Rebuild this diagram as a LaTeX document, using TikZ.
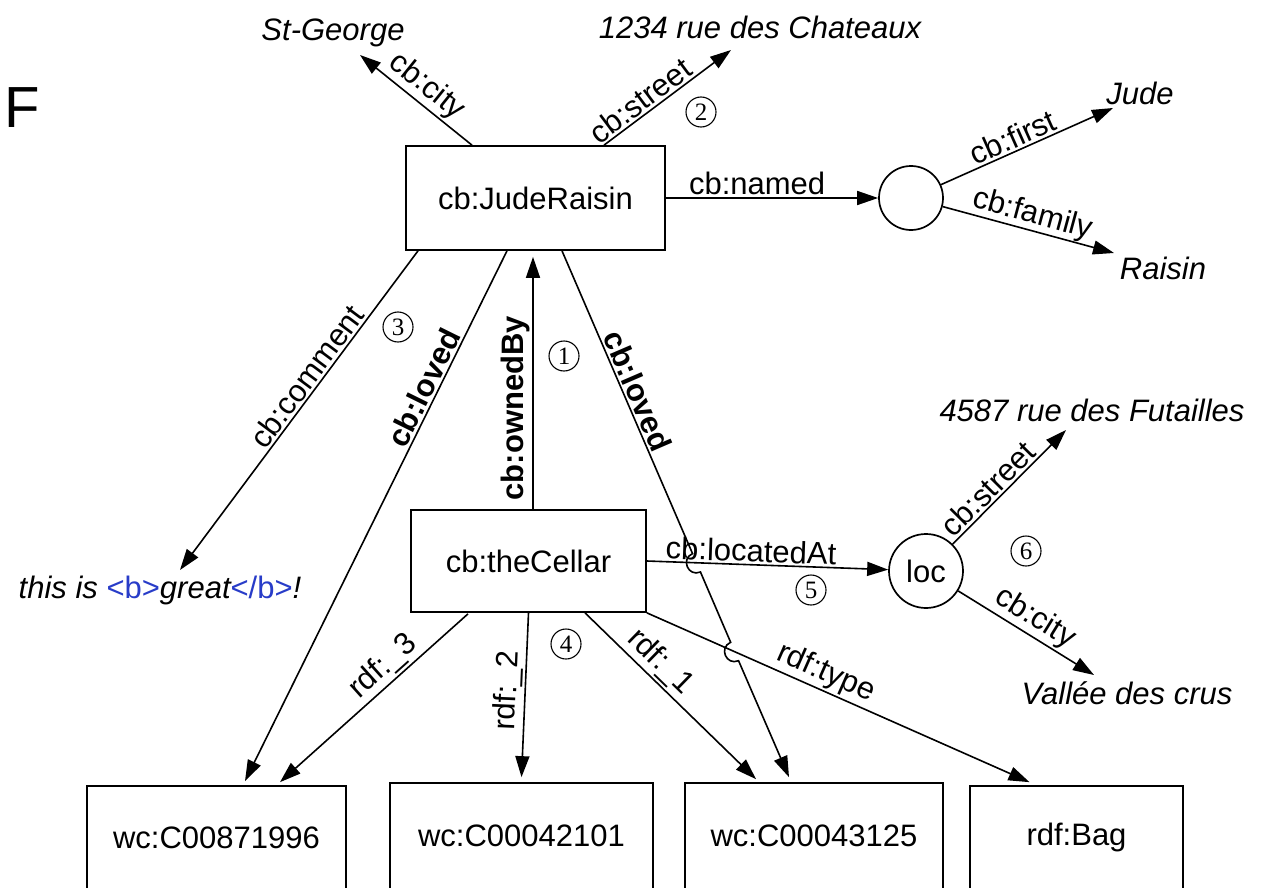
\documentclass[tikz,border=0pt]{standalone}
\usepackage{fontspec}
\setmainfont{Liberation Sans}
\newfontfamily\numfont{Liberation Serif}
\usetikzlibrary{arrows.meta}
\definecolor{tagblue}{RGB}{40,60,200}
\begin{document}
\begin{tikzpicture}[x=1pt,y=-1pt,
  every node/.style={font=\fontsize{31}{35}\selectfont},
  box/.style={draw,line width=1.7pt,inner sep=0pt},
  blank/.style={draw,circle,line width=1.7pt,inner sep=0pt},
  lit/.style={font=\fontsize{31}{35}\selectfont\itshape,inner sep=0pt},
  arr/.style={line width=1.6pt,-{Triangle[length=21pt,width=14pt]}},
  lab/.style={sloped,above,inner sep=2pt},
  blab/.style={sloped,above,inner sep=2pt,font=\fontsize{31}{35}\selectfont\bfseries},
  num/.style={draw,circle,line width=1.1pt,inner sep=0pt,minimum size=30pt,font=\fontsize{25}{25}\selectfont\numfont}
]
\useasboundingbox (0,0) rectangle (1269,888);
% nodes
\node[box,minimum width=259pt,minimum height=104pt] (jr) at (535.5,198) {cb:JudeRaisin};
\node[blank,minimum size=64pt] (bn) at (911,198) {};
\node[box,minimum width=235pt,minimum height=102pt] (tc) at (528.5,561) {cb:theCellar};
\node[blank,minimum size=74pt] (loc) at (926,571) {loc};
\node[box,minimum width=259pt,minimum height=103pt] (b1) at (216.5,837.5) {wc:C00871996};
\node[box,minimum width=263pt,minimum height=106pt] (b2) at (521.5,836) {wc:C00042101};
\node[box,minimum width=258pt,minimum height=106pt] (b3) at (814,836) {wc:C00043125};
\node[box,minimum width=213pt,minimum height=103pt] (b4) at (1076.5,837.5) {rdf:Bag};
% literals
\node[lit] (stg) at (333,33) {St-George};
\node[lit] (chat) at (760,27) {1234 rue des Chateaux};
\node[lit] (jude) at (1140,93) {Jude};
\node[lit] (rais) at (1163,268) {Raisin};
\node[lit] (fut) at (1092,410) {4587 rue des Futailles};
\node[lit] (val) at (1127,693) {Vallée des crus};
\node[lit] (cmt) at (160,590) {this is {\upshape\color{tagblue}<b>}great{\upshape\color{tagblue}</b>}!};
\node[font=\fontsize{58}{60}\selectfont,inner sep=0pt] (F) at (22,108) {F};
% edges
\draw[arr] ([shift={(-63.5,0)}]jr.north) -- node[lab,pos=0.5]{cb:city} ([shift={(27,22)}]stg.center);
\draw[arr] ([shift={(68.5,0)}]jr.north) -- node[lab,pos=0.35]{cb:street} ([shift={(-29,23)}]chat.center);
\draw[arr] (jr) -- node[lab,pos=0.43]{cb:named} (bn);
\draw[arr] (bn) -- node[lab,pos=0.45]{cb:first} ([shift={(-27,15)}]jude.center);
\draw[arr] (bn) -- node[lab,pos=0.5,inner sep=0pt]{cb:family} ([shift={(-49,-15)}]rais.center);
\draw[arr] ([shift={(-117.5,0)}]jr.south) -- node[lab,pos=0.42]{cb:comment} ([shift={(20,-20)}]cmt.center);
\draw[arr] ([shift={(-28.5,0)}]jr.south) -- node[blab,pos=0.27]{cb:loved} ([shift={(28.5,-4)}]b1.north);
\draw[arr] ([shift={(4.5,0)}]tc.north) -- node[blab,pos=0.4]{cb:ownedBy} ([shift={(-2.5,6)}]jr.south);
\draw[arr] ([shift={(26.5,0)}]jr.south) -- node[blab,pos=0.48]{cb:loved} (692.55,553.6)
   .. controls (680.3,558.9) and (688.2,577.3) .. (700.45,572.0) -- (730.65,642.3)
   .. controls (718.4,647.6) and (726.3,666.0) .. (738.55,660.7) -- ([shift={(-25,-5)}]b3.north);
\draw[arr] (tc.east) -- node[lab,pos=0.43]{cb:locatedAt} (loc);
\draw[arr] (loc) -- node[lab,pos=0.4]{cb:street} ([shift={(-26,20)}]fut.center);
\draw[arr] (loc) -- node[lab,pos=0.5]{cb:city} ([shift={(-33,-18)}]val.center);
\draw[arr] ([shift={(-60.5,1)}]tc.south) -- node[lab,pos=0.39]{rdf:\_3} ([shift={(63.5,-3)}]b1.north);
\draw[arr] (tc.south) -- node[lab,pos=0.48]{rdf:\_2} ([shift={(0,-5)}]b2.north);
\draw[arr] ([shift={(56.5,0)}]tc.south) -- node[lab,pos=0.37]{rdf:\_1} ([shift={(-58,-3)}]b3.north);
\draw[arr] (tc.south east) -- node[lab,pos=0.45]{rdf:type} ([shift={(-47,-3)}]b4.north);
% circled numbers
\node[num] (n1) at (564,356) {1};
\node[num] (n2) at (701,112) {2};
\node[num] (n3) at (398,327) {3};
\node[num] (n4) at (566,644) {4};
\node[num] (n5) at (811,590) {5};
\node[num] (n6) at (1026,551) {6};
\end{tikzpicture}
\end{document}
